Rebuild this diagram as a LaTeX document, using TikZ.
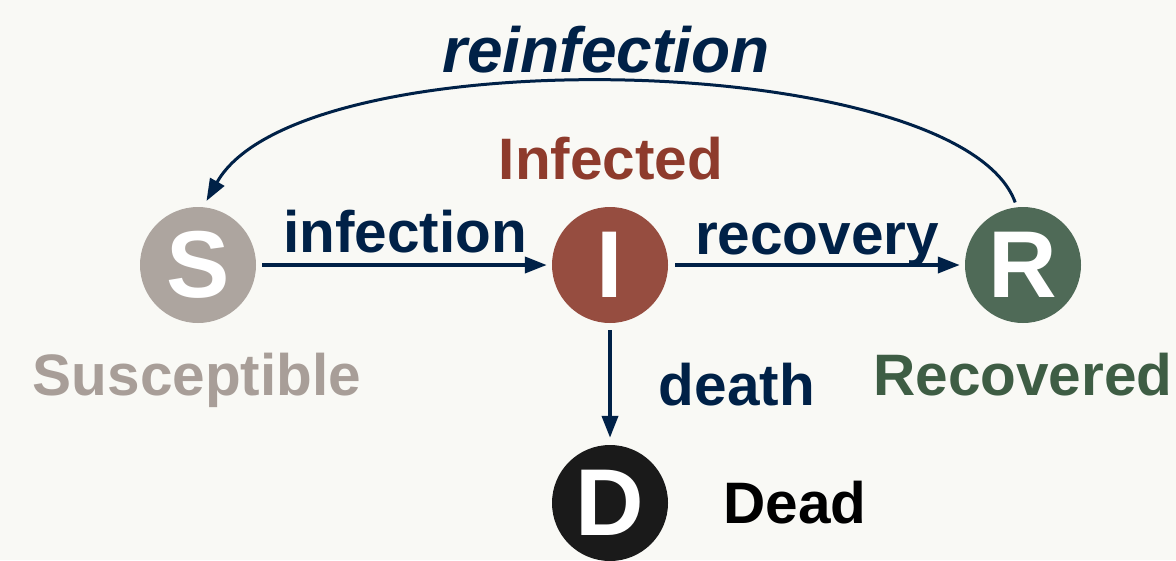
\documentclass[tikz,border=0pt]{standalone}
\usepackage{fontspec}
\setmainfont{Liberation Sans}
\usetikzlibrary{arrows.meta}
\definecolor{bgc}{HTML}{F9F9F5}
\definecolor{navy}{HTML}{002147}
\definecolor{scol}{HTML}{ADA59F}
\definecolor{stxt}{HTML}{A89E98}
\definecolor{icol}{HTML}{964D40}
\definecolor{itxt}{HTML}{8E3B2C}
\definecolor{rcol}{HTML}{4F6A57}
\definecolor{rtxt}{HTML}{3E5D44}
\definecolor{dcol}{HTML}{1A1A1A}
\tikzset{
  state/.style={circle, minimum size=116pt, inner sep=0pt, text=white,
    font=\fontsize{95}{95}\selectfont\bfseries},
  lbl/.style={anchor=base, inner sep=0pt, font=\fontsize{58.5}{60}\selectfont\bfseries},
  flow/.style={draw=navy, line width=3.8pt, -{Triangle[length=22pt,width=16pt]}},
  curveflow/.style={draw=navy, line width=3pt, -{Triangle[length=22pt,width=16pt]}}
}
\begin{document}
\begin{tikzpicture}[x=1pt,y=-1pt]
\fill[bgc] (0,0) rectangle (1176,560);
\useasboundingbox (0,0) rectangle (1176,560);
\node[state, fill=scol] (S) at (198,265) {S};
\node[state, fill=icol] (I) at (610,265) {I};
\node[state, fill=rcol] (R) at (1023,265) {R};
\node[state, fill=dcol] (D) at (610,503) {D};

\node[lbl, text=navy, font=\fontsize{64}{66}\selectfont\bfseries\itshape] (treinf) at (606,72) {reinfection};
\node[lbl, text=itxt] (tinfd) at (611,179) {Infected};
\node[lbl, text=navy] (tinf) at (405,252) {infection};
\node[lbl, text=navy] (trec) at (817,254) {recovery};
\node[lbl, text=navy] (tdeath) at (737,405) {death};
\node[lbl, text=stxt] (tsus) at (197,395) {Susceptible};
\node[lbl, text=rtxt] (trecd) at (1023,395) {Recovered};
\node[lbl, text=black] (tdead) at (795,523) {Dead};

\draw[flow, shorten <=6pt, shorten >=5pt] (S) -- (I);
\draw[flow, shorten <=7pt, shorten >=5pt] (I) -- (R);
\draw[flow, shorten <=7pt, shorten >=7pt] (I) -- (D);
\draw[curveflow, shorten <=5pt, shorten >=7pt] (R.96) .. controls +(-57,-157) and +(97,-172) .. (S.85);
\end{tikzpicture}
\end{document}
